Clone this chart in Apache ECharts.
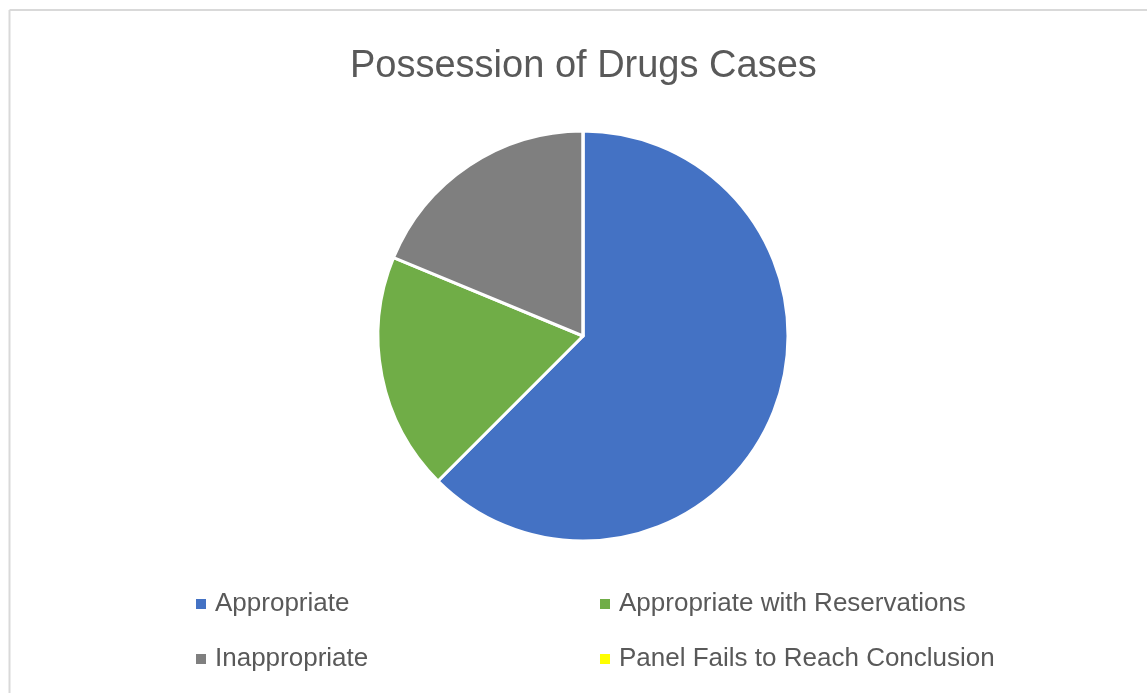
<!DOCTYPE html>
<html>
<head>
<meta charset="utf-8">
<script src="https://cdn.jsdelivr.net/npm/echarts@6/dist/echarts.min.js"></script>
<style>
html,body{margin:0;padding:0;background:#fff;}
#c{width:1147px;height:693px;}
</style>
</head>
<body>
<div id="c"></div>
<script>
const titleText = 'Possession of Drugs Cases';
const categories = ['Appropriate', 'Appropriate with Reservations', 'Inappropriate', 'Panel Fails to Reach Conclusion'];
const values = [10, 3, 3, 0];
const colors = ['#4472C4', '#70AD47', '#7F7F7F', '#FFFF00'];
const legendCol1 = ['Appropriate', 'Inappropriate'];
const legendCol2 = ['Appropriate with Reservations', 'Panel Fails to Reach Conclusion'];

const chart = echarts.init(document.getElementById('c'), null, {renderer: 'canvas'});
const font = '"Liberation Sans", Arial, sans-serif';
const legendBase = {
  orient: 'vertical',
  top: 591,
  icon: 'rect',
  itemWidth: 12,
  itemHeight: 12,
  itemGap: 29,
  selectedMode: false,
  textStyle: {color: '#595959', fontSize: 26, fontFamily: font, lineHeight: 26, padding: [0, 0, 0, 3]},
  padding: 0
};
chart.setOption({
  animation: false,
  color: colors,
  title: {
    text: titleText,
    left: 350,
    top: 48,
    padding: 0,
    textStyle: {color: '#595959', fontSize: 38, fontWeight: 'normal', fontFamily: font}
  },
  legend: [
    Object.assign({}, legendBase, {left: 194, data: legendCol1}),
    Object.assign({}, legendBase, {left: 598, data: legendCol2})
  ],
  graphic: [
    {type: 'line', shape: {x1: 9.5, y1: 10, x2: 1147, y2: 10}, style: {stroke: '#d9d9d9', lineWidth: 2}},
    {type: 'line', shape: {x1: 9.5, y1: 10, x2: 9.5, y2: 693}, style: {stroke: '#d9d9d9', lineWidth: 2}}
  ],
  series: [{
    type: 'pie',
    center: [583, 336],
    radius: [0, 205],
    startAngle: 90,
    clockwise: true,
    label: {show: false},
    labelLine: {show: false},
    emphasis: {disabled: true},
    itemStyle: {borderColor: '#ffffff', borderWidth: 3},
    data: categories.map((n, i) => ({name: n, value: values[i]}))
  }]
});
</script>
</body>
</html>
